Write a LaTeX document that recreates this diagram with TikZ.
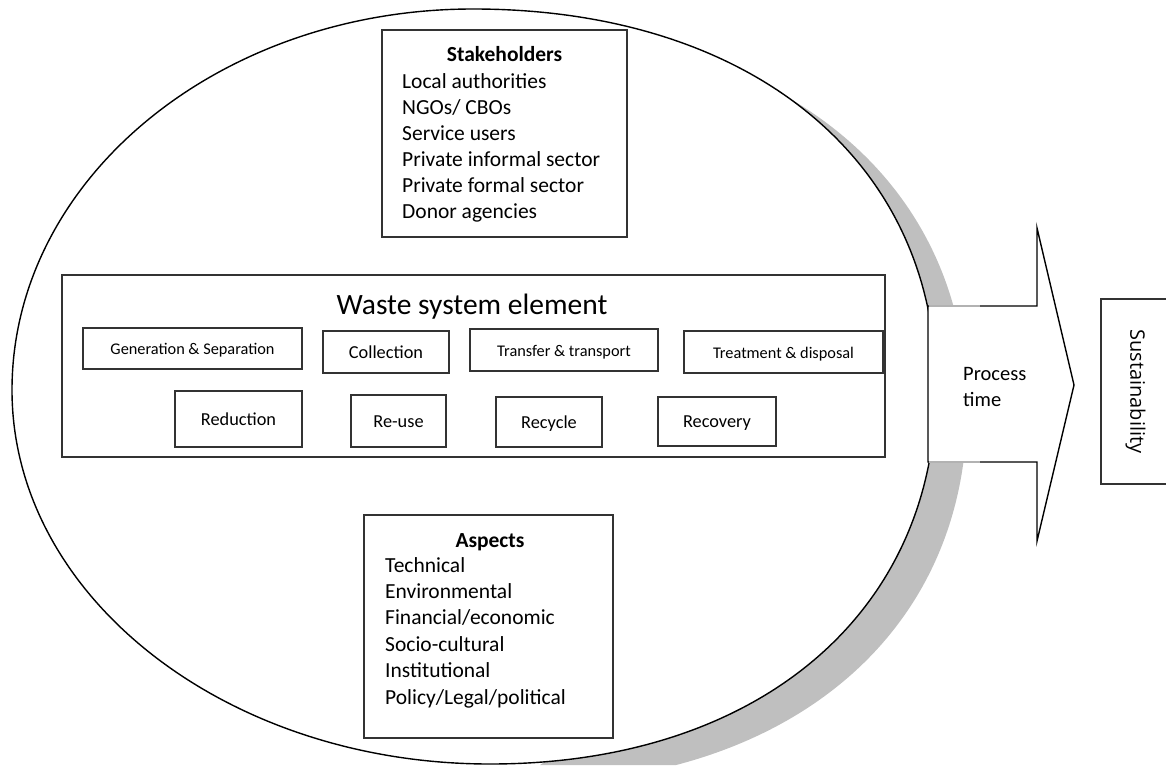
\documentclass[tikz,border=0pt]{standalone}
\usepackage{fontspec}
\setmainfont{Carlito}
\newfontfamily\sustfont{Open Sans}

\tikzset{
  framebox/.style={draw=black!80, line width=1.6pt, fill=white, inner sep=0pt},
  elembox/.style={framebox, text height=12pt, text depth=0pt, font=\fontsize{18.3}{22}\selectfont},
  elemlong/.style={elembox, font=\fontsize{16.3}{20}\selectfont},
  listtxt/.style={anchor=base west, inner sep=0pt, font=\fontsize{21.5}{26}\selectfont},
  listhead/.style={anchor=base, inner sep=0pt, font=\fontsize{21.5}{26}\selectfont\bfseries},
}

\begin{document}
\begin{tikzpicture}[x=1pt,y=-1pt]
\useasboundingbox (0,0) rectangle (1166,765);
\clip (0,0) rectangle (1166,765);

% shadow and oval
\begin{scope}
\clip (540,765) -- (640,700) -- (640,0) -- (1166,0) -- (1166,765) -- cycle;
\fill[gray!50, shift={(31,20)}] (473,9) .. controls (750.8,9) and (936,160.6) .. (936,388)
  .. controls (936,613.6) and (757.6,764) .. (490,764)
  .. controls (226,764) and (12,596.6) .. (12,390)
  .. controls (12,179.6) and (218.4,9) .. cycle;
\end{scope}
\draw[line width=1.4pt, fill=white] (473,9) .. controls (750.8,9) and (936,160.6) .. (936,388)
  .. controls (936,613.6) and (757.6,764) .. (490,764)
  .. controls (226,764) and (12,596.6) .. (12,390)
  .. controls (12,179.6) and (218.4,9) .. cycle;

% arrow
\draw[line width=1.4pt, fill=white] (928,306) -- (1037,306) -- (1037,228) -- (1074,385)
  -- (1037,541) -- (1037,462) -- (928,462) -- cycle;
\draw[line width=1.4pt, gray!60] (929,306) -- (980,306);
\draw[line width=1.4pt, gray!60] (929,462) -- (980,462);
\node[anchor=west, align=left, inner sep=0pt, font=\fontsize{20.5}{26}\selectfont] (ptime) at (963,387) {Process\\time};

% sustainability
\node[framebox, rotate=-90, minimum width=185, minimum height=69,
  font=\sustfont\fontsize{20}{24}\selectfont] (sust) at (1135.5,391.5) {Sustainability};

% stakeholders
\node[framebox, minimum width=245, minimum height=207] (stake) at (504.5,133.5) {};
\node[listhead] (staket) at (504.5,62) {Stakeholders};
\foreach \txt [count=\i] in {Local authorities, NGOs/ CBOs, Service users,
    Private informal sector, Private formal sector, Donor agencies}
  \node[listtxt] (stake\i) at (402,63.2+25.8*\i) {\txt};

% waste system element
\node[framebox, minimum width=823, minimum height=182] (waste) at (473.5,366) {};
\node[anchor=base, inner sep=0pt, font=\fontsize{29.5}{34}\selectfont] (wastet) at (472,314.5) {Waste system element};

\node[elemlong, minimum width=219, minimum height=41] (gen) at (192.5,348.5) {Generation \& Separation};
\node[elembox, minimum width=126, minimum height=42] (coll) at (386,352) {Collection};
\node[elemlong, minimum width=188, minimum height=42] (trans) at (564,350) {Transfer \& transport};
\node[elemlong, minimum width=199, minimum height=42] (treat) at (783.5,352) {Treatment \& disposal};

\node[elembox, minimum width=127, minimum height=56] (reduc) at (238.5,419) {Reduction};
\node[elembox, minimum width=95, minimum height=52] (reuse) at (398.5,421) {Re-use};
\node[elembox, minimum width=106, minimum height=50] (recyc) at (549,422) {Recycle};
\node[elembox, minimum width=118, minimum height=49] (recov) at (717,421.5) {Recovery};

% aspects
\node[framebox, minimum width=249, minimum height=223] (asp) at (488.5,626.5) {};
\node[listhead] (aspt) at (490,547) {Aspects};
\foreach \txt [count=\i] in {Technical, Environmental, Financial/economic,
    Socio-cultural, Institutional, Policy/Legal/political}
  \node[listtxt] (asp\i) at (385,545.6+26.4*\i) {\txt};
\end{tikzpicture}
\end{document}
